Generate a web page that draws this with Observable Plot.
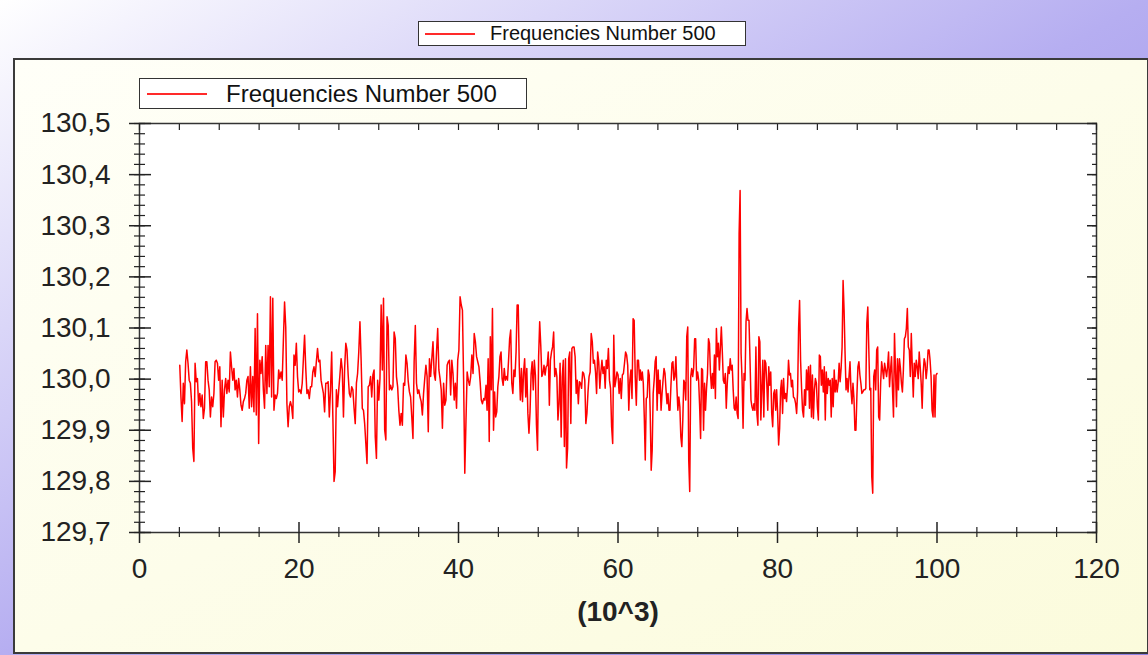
<!DOCTYPE html>
<html>
<head>
<meta charset="utf-8">
<script src="https://cdn.jsdelivr.net/npm/d3@7"></script>
<script src="https://cdn.jsdelivr.net/npm/@observablehq/plot@0.6"></script>
<style>
  html, body { margin: 0; padding: 0; }
  body {
    width: 1148px; height: 655px; position: relative; overflow: hidden;
    background: linear-gradient(to bottom right, #ffffff 0%, #b6aef1 50%, #8f80e2 100%);
    font-family: "Liberation Sans", Arial, sans-serif;
  }
  .legend {
    position: absolute; background: #ffffff; border: 1px solid #333; box-sizing: border-box;
    color: #111; white-space: nowrap;
  }
  .legend .swatch { position: absolute; height: 2px; background: #ff2a2a; }
  .legend .lab { position: absolute; }
  #panel {
    position: absolute; left: 13px; top: 58px; width: 1135px; height: 596px; box-sizing: border-box;
    border: 2px solid #3a3a3a; border-right-width: 1px;
    background: linear-gradient(to bottom right, #fffff8 0%, #fdfdea 50%, #fbfbdc 100%);
  }
  #chart { position: absolute; left: 0; top: 0; }
</style>
</head>
<body>
<div class="legend" style="left:418px; top:21px; width:328px; height:25px;">
  <div class="swatch" style="left:6px; width:50px; top:11px;"></div>
  <div class="lab" id="legTop" style="left:71px; top:0px; font-size:20px; line-height:23px;"></div>
</div>
<div id="panel"></div>
<div class="legend" style="left:139px; top:78px; width:388px; height:31px;">
  <div class="swatch" style="left:7px; width:60px; top:14px;"></div>
  <div class="lab" id="legIn" style="left:86px; top:0px; font-size:24px; line-height:29px;"></div>
</div>
<div id="chart"></div>
<script>
// ---- data ----
const seriesName = "Frequencies Number 500";
const xTitle = ["(10^3)"];
const xMajor = [0, 20, 40, 60, 80, 100, 120];
const yMajor = [129.7, 129.8, 129.9, 130.0, 130.1, 130.2, 130.3, 130.4, 130.5];
// x extent (thousands) covered by each stretch of readings below
const segSpans = [[5.05, 23.8], [23.95, 43.3], [43.45, 62.7], [62.8, 82.0], [82.15, 100.0]];
const seg1 = [130.027, 129.965, 129.917, 129.992, 129.952, 130.034, 130.057, 130.031, 129.998, 129.992, 129.956, 129.865, 129.839, 130.031, 129.995, 130.001, 129.949, 129.972, 129.946, 129.969, 129.923, 129.943, 130.034, 130.034, 129.998, 129.979, 129.926, 129.965, 129.946, 129.972, 130.034, 130.037, 130.031, 129.998, 130.024, 129.907, 129.998, 129.926, 129.979, 130.001, 129.972, 129.998, 129.975, 130.053, 130.024, 129.998, 130.021, 129.979, 129.998, 129.965, 130.001, 129.979, 129.949, 129.939, 129.956, 129.962, 129.972, 129.998, 130.005, 129.943, 130.024, 129.946, 130.005, 129.936, 130.099, 129.930, 130.128, 129.874, 130.037, 130.011, 130.044, 129.979, 129.943, 130.066, 129.972, 130.066, 129.985, 130.161, 129.965, 130.158, 129.939, 129.969, 129.962, 129.972, 130.018, 130.001, 130.014, 129.998, 130.076, 130.151, 130.102, 129.952, 129.907, 129.946, 129.956, 129.946, 129.923, 130.047, 130.027, 130.070, 130.005, 129.975, 129.979, 129.972, 129.992, 130.040, 130.086, 130.021, 129.972, 129.979, 129.962, 129.985, 129.985, 130.014, 130.024, 130.005, 130.034, 130.060, 130.034, 130.037, 129.998, 129.985, 129.972, 129.936, 129.992, 129.992, 129.995, 129.926];
const seg2 = [129.979, 130.053, 129.926, 129.800, 129.819, 129.979, 129.946, 129.979, 130.008, 130.040, 130.018, 129.926, 130.021, 130.070, 130.057, 130.008, 129.972, 129.965, 129.985, 129.979, 129.943, 129.913, 129.992, 130.011, 130.053, 130.112, 130.037, 129.943, 129.939, 129.913, 129.874, 129.835, 129.985, 129.988, 130.005, 129.965, 130.008, 130.018, 129.887, 129.845, 129.998, 129.959, 130.001, 130.145, 130.018, 130.158, 129.900, 129.881, 130.122, 130.105, 129.979, 129.988, 129.979, 129.985, 130.092, 130.079, 130.005, 129.985, 129.939, 129.910, 129.933, 129.910, 129.992, 129.988, 130.047, 130.031, 129.995, 129.975, 129.965, 129.926, 129.884, 130.034, 130.105, 129.992, 129.972, 129.979, 129.965, 129.956, 129.930, 129.972, 130.001, 130.027, 130.005, 129.897, 130.040, 130.005, 130.040, 130.073, 130.011, 129.998, 130.053, 130.099, 130.018, 130.001, 129.979, 129.904, 129.992, 129.949, 129.959, 130.027, 130.034, 130.037, 129.969, 130.037, 130.011, 129.959, 129.992, 129.943, 130.037, 130.057, 130.161, 130.145, 130.135, 129.998, 129.816, 129.917, 130.014, 129.998, 129.988, 130.005, 130.047, 130.011, 130.089, 130.073, 130.044, 130.034, 130.024, 129.995, 129.959, 129.952, 129.962, 129.959];
const seg3 = [129.988, 129.939, 130.040, 129.878, 130.083, 129.979, 130.138, 129.900, 129.975, 129.926, 129.936, 129.985, 130.005, 130.044, 130.053, 130.001, 129.988, 130.021, 129.998, 130.005, 129.998, 130.037, 130.079, 130.096, 129.992, 129.972, 130.018, 130.005, 130.053, 130.145, 130.145, 130.024, 129.959, 130.021, 129.956, 130.014, 130.040, 129.965, 130.021, 129.933, 129.894, 129.936, 130.011, 130.034, 129.979, 130.037, 130.008, 129.910, 129.861, 130.044, 130.112, 130.066, 130.005, 130.011, 130.027, 130.008, 130.024, 130.027, 130.053, 129.949, 130.037, 130.053, 130.063, 130.092, 130.005, 130.021, 130.005, 129.920, 129.952, 130.031, 129.887, 130.005, 130.037, 129.868, 130.040, 129.826, 129.865, 130.040, 130.053, 129.913, 130.060, 130.063, 130.063, 130.044, 129.972, 129.998, 129.952, 129.995, 129.992, 129.982, 130.014, 130.011, 129.998, 129.913, 129.933, 129.975, 130.005, 130.014, 130.089, 130.073, 130.031, 130.037, 130.014, 129.972, 130.053, 130.034, 129.982, 130.014, 130.037, 130.011, 130.024, 129.982, 130.037, 130.021, 130.060, 129.998, 129.982, 129.907, 129.874, 130.086, 129.985, 129.998, 130.014, 130.008, 129.972, 130.001, 129.962, 130.008, 130.011, 130.031, 130.053, 130.047, 130.027, 129.939, 129.998, 130.018, 129.962, 130.118, 130.115, 130.005, 129.949, 130.037, 130.037, 129.998];
const seg4 = [130.018, 129.998, 130.014, 129.992, 129.926, 129.842, 129.962, 129.965, 130.018, 130.008, 129.933, 129.822, 129.861, 129.972, 129.998, 130.034, 130.044, 129.939, 130.018, 129.972, 129.998, 129.939, 129.972, 129.998, 130.021, 130.011, 129.979, 129.952, 129.972, 129.939, 129.939, 129.988, 130.031, 130.034, 129.998, 130.005, 130.044, 129.985, 129.939, 129.965, 129.946, 129.887, 129.868, 129.920, 129.998, 129.992, 129.959, 130.083, 130.102, 129.842, 129.780, 130.005, 130.021, 130.005, 130.021, 130.079, 130.079, 129.998, 130.014, 129.998, 129.949, 129.884, 130.021, 130.018, 129.900, 129.992, 129.939, 129.982, 130.011, 130.079, 130.070, 130.011, 129.982, 130.011, 129.982, 130.047, 129.962, 130.099, 130.044, 130.070, 130.018, 130.060, 130.102, 130.053, 129.998, 129.992, 130.011, 129.943, 129.992, 130.024, 130.011, 130.040, 130.018, 130.027, 129.979, 129.943, 129.939, 129.965, 129.933, 129.923, 130.284, 130.369, 130.050, 129.998, 129.904, 130.011, 129.998, 130.112, 130.138, 130.115, 130.115, 130.040, 129.959, 129.946, 129.939, 129.952, 129.939, 130.063, 129.933, 129.910, 130.083, 130.073, 129.920, 129.982, 130.037, 129.926, 130.037, 130.031, 129.992, 129.939, 130.024, 129.988, 130.014, 129.933, 129.907, 129.972, 129.979, 129.939, 129.979, 129.933, 129.871, 129.904, 129.979, 129.998, 129.933, 130.001, 129.962, 129.972, 129.956, 129.985, 130.037, 130.008, 130.011, 129.985, 129.998, 129.965];
const seg5 = [129.962, 129.952, 129.933, 129.975, 130.099, 130.154, 130.037, 129.982, 129.939, 129.926, 129.979, 129.949, 130.018, 129.979, 130.024, 129.943, 130.027, 129.926, 130.008, 129.923, 129.979, 130.001, 129.992, 129.946, 129.920, 130.047, 130.044, 129.988, 130.018, 129.975, 130.024, 129.920, 130.014, 129.972, 130.001, 129.988, 129.998, 129.926, 130.001, 129.946, 130.018, 129.975, 129.998, 129.975, 129.992, 130.031, 129.995, 130.021, 130.063, 130.193, 130.135, 130.050, 129.979, 130.001, 129.975, 130.005, 130.034, 129.979, 129.952, 129.992, 129.962, 129.900, 129.900, 129.969, 130.024, 130.034, 130.008, 129.992, 129.972, 129.975, 129.979, 129.979, 129.982, 130.109, 130.141, 130.060, 129.979, 129.982, 129.809, 129.777, 130.005, 130.018, 129.979, 130.057, 130.063, 129.926, 129.920, 129.992, 130.034, 130.018, 130.001, 130.031, 130.018, 130.005, 130.024, 130.053, 129.985, 130.018, 130.044, 129.979, 129.926, 130.089, 130.018, 129.946, 130.040, 129.979, 130.040, 130.021, 129.992, 129.975, 130.018, 130.079, 130.083, 130.099, 130.138, 130.063, 130.057, 130.005, 130.089, 130.024, 129.965, 130.031, 130.005, 130.037, 130.024, 130.001, 130.053, 130.024, 129.992, 129.943, 130.011, 130.040, 130.031, 130.001, 130.021, 130.057, 130.057, 130.037, 130.005, 129.939, 129.926, 130.008, 129.926, 130.008, 130.011];

// ---- build table ----
const segments = [seg1, seg2, seg3, seg4, seg5];
const data = [];
segments.forEach((seg, s) => {
  const [a, b] = segSpans[s];
  seg.forEach((v, i) => data.push({x: a + (b - a) * i / (seg.length - 1), v}));
});

const xMinor = d3.range(0, 120.001, 5).filter(d => !xMajor.includes(d));
const xAll = d3.range(0, 120.001, 5);
const yMinor = d3.range(0, 41).map(i => +(129.7 + i * 0.02).toFixed(2));
const fmt = d => d.toFixed(1).replace(".", ",");

document.getElementById("legTop").textContent = seriesName;
document.getElementById("legIn").textContent = seriesName;

const tickColor = "#222";
const chart = Plot.plot({
  width: 1148,
  height: 655,
  marginLeft: 139,
  marginRight: 52,
  marginTop: 123,
  marginBottom: 123,
  style: {background: "transparent", overflow: "visible", fontFamily: "'Liberation Sans', Arial, sans-serif", color: "#222"},
  x: {domain: [0, 120]},
  y: {domain: [129.7, 130.5]},
  marks: [
    Plot.frame({fill: "white", stroke: null}),
    Plot.line(data, {x: "x", y: "v", stroke: "#ff0000", strokeWidth: 1.5}),
    Plot.frame({stroke: "#333", strokeWidth: 1.5}),
    // left axis: ticks crossing the axis line
    Plot.axisY(yMajor, {anchor: "left", tickSize: 22, dx: 12, fill: "none", stroke: tickColor, strokeWidth: 1.5, label: null}),
    Plot.axisY(yMinor, {anchor: "left", tickSize: 11, dx: 6, fill: "none", stroke: tickColor, strokeWidth: 1.2, label: null}),
    Plot.axisY(yMajor, {anchor: "left", tickSize: 0, tickPadding: 29, tickFormat: fmt, fontSize: 28, fill: "#222", label: null}),
    // right axis: inward ticks
    Plot.axisY(yMajor, {anchor: "right", tickSize: 10, dx: -10, fill: "none", stroke: tickColor, strokeWidth: 1.5, label: null}),
    Plot.axisY(yMinor, {anchor: "right", tickSize: 5, dx: -5, fill: "none", stroke: tickColor, strokeWidth: 1.2, label: null}),
    // bottom axis
    Plot.axisX(xMajor, {anchor: "bottom", tickSize: 21, dy: -10, fill: "none", stroke: tickColor, strokeWidth: 1.5, label: null}),
    Plot.axisX(xMinor, {anchor: "bottom", tickSize: 10, dy: -5, fill: "none", stroke: tickColor, strokeWidth: 1.2, label: null}),
    Plot.axisX(xMajor, {anchor: "bottom", tickSize: 0, tickPadding: 26, fontSize: 28, fill: "#222", label: null}),
    // top border ticks
    Plot.axisX(xAll, {anchor: "top", tickSize: 6, dy: 6, fill: "none", stroke: tickColor, strokeWidth: 1.2, label: null}),
    // x title
    Plot.text(xTitle, {text: d => d, frameAnchor: "bottom", dy: 88, fontSize: 28, fontWeight: "bold", fill: "#222"})
  ]
});
document.getElementById("chart").append(chart);
</script>
</body>
</html>
